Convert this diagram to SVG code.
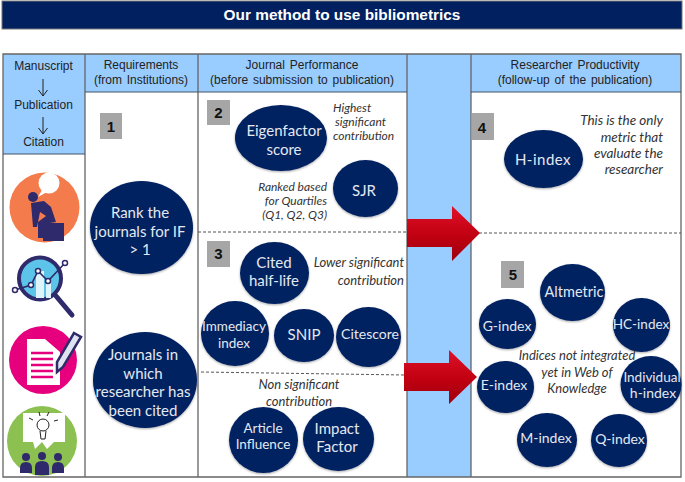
<svg xmlns="http://www.w3.org/2000/svg" width="685" height="482" viewBox="0 0 685 482">
<style>
text{font-family:"Liberation Sans",Arial,sans-serif;text-anchor:middle}
.hd{font-size:12px;fill:#222;word-spacing:1.5px}
.n{fill:#002060;filter:url(#sh)}
.nt{font-family:Lato,"Liberation Sans",sans-serif;font-size:15px;fill:#e4e8f2}
.it{font-family:Lato,"Liberation Sans",sans-serif;font-size:12px;font-style:italic;fill:#333}
.it4{font-size:13.5px}
.end{text-anchor:end}
.st{text-anchor:start}
.num{font-size:15px;font-weight:bold;fill:#111}
.b{fill:#a6a6a6}
.c{fill:#99ccff}
.l{fill:none;stroke:#666;stroke-width:1.3}
.d{stroke:#555;stroke-width:1;stroke-dasharray:3 2;fill:none}
.ink{fill:#2e2a6b}
</style>
<defs>
<filter id="sh" x="-10%" y="-10%" width="120%" height="125%"><feDropShadow dx="0" dy="1" stdDeviation="0.8" flood-color="#000" flood-opacity=".35"/></filter>
<linearGradient id="red" x1="0" y1="0" x2="0" y2="1"><stop offset="0" stop-color="#e0102a"/><stop offset=".55" stop-color="#c00010"/><stop offset="1" stop-color="#9c0010"/></linearGradient>
<marker id="ah" markerWidth="10" markerHeight="10" refX="9" refY="5" orient="auto" markerUnits="userSpaceOnUse" viewBox="0 0 10 10"><path d="M3 0.500L9 5L3 9.500" fill="none" stroke="#222" stroke-width="1"/></marker>
</defs>
<g id="title"><rect x="2" y="1" width="680" height="28" fill="#002060" stroke="#777"/><text x="342" y="20" font-size="15.4" font-weight="bold" fill="#fff">Our method to use bibliometrics</text></g>
<g id="panels">
<rect x="3" y="54" width="82" height="100" class="c"/>
<rect x="85" y="54" width="113" height="38" class="c"/>
<rect x="198" y="54" width="209" height="38" class="c"/>
<rect x="407" y="54" width="64" height="423" class="c"/>
<rect x="471" y="54" width="210" height="38" class="c"/>
<path class="l" d="M3 54H681V477H3ZM85 54V477M198 54V477M407 54V477M471 54V477"/>
<path d="M3 154H85M85 92H198M198 92H407M471 92H681" stroke="#456" stroke-width="1" fill="none"/>
<path class="d" d="M198 232H407M479 233H681M201 372L405 375"/>
</g>
<g id="headers">
<text class="hd" x="43.500" y="70">Manuscript</text>
<text class="hd" x="43.500" y="109">Publication</text>
<text class="hd" x="43.500" y="146">Citation</text>
<text class="hd" x="141" y="69">Requirements</text><text class="hd" x="141" y="84">(from Institutions)</text>
<text class="hd" x="302" y="69">Journal Performance</text><text class="hd" x="302" y="84">(before submission to publication)</text>
<text class="hd" x="575" y="69">Researcher Productivity</text><text class="hd" x="575" y="84">(follow-up of the publication)</text>
<path d="M43 79V96" stroke="#222" marker-end="url(#ah)"/><path d="M43 117V134" stroke="#222" marker-end="url(#ah)"/>
</g>
<g id="icon-thinker"><circle cx="44.500" cy="207.500" r="35" fill="#f47c4c"/><circle cx="49" cy="183" r="10.500" fill="#fff"/><path d="M42 190L38 197L47 192Z" fill="#fff"/><circle cx="33" cy="197" r="5" class="ink"/><path class="ink" d="M31 203L44 201L51 207L56 222L44 224L44 238L38 238L38 222L46 216L40 212L37 227L33 227Z"/><rect x="43" y="223" width="21" height="18" class="ink"/></g>
<g id="icon-search"><circle cx="40" cy="278.500" r="21" fill="#5cc4e8" stroke="#2e2a6b" stroke-width="4"/><rect x="36" y="271" width="8" height="27" fill="#dff3fb"/><rect x="46" y="282" width="5" height="16" fill="#dff3fb"/><path d="M56 296L72 315" stroke="#2e2a6b" stroke-width="5" stroke-linecap="round"/><path d="M15 290L31 285L38 271L48 281L65 263" fill="none" stroke="#2e2a6b" stroke-width="1.6"/><g fill="#fff" stroke="#2e2a6b" stroke-width="1.500"><circle cx="15" cy="290" r="2.500"/><circle cx="31" cy="285" r="2.500"/><circle cx="38" cy="271" r="2.500"/><circle cx="48" cy="281" r="2.500"/><circle cx="65" cy="263" r="2.500"/></g></g>
<g id="icon-document"><circle cx="43" cy="360" r="34" fill="#e6007e"/><path d="M27 339H45L60 352V385H27Z" fill="#fff"/><path d="M31 353H53M31 359H53M31 365H53M31 371H53M31 377H53" stroke="#e6007e" stroke-width="2.400"/><path d="M74 333L81 337L63 367L57 372L57 362Z" fill="#dfe3f0" stroke="#2e2a6b" stroke-width="2.500"/></g>
<g id="icon-idea"><circle cx="42" cy="441" r="35" fill="#8cc152"/><path d="M23 413H65V442H54L47 449L42 442L35 449L33 442H23Z" fill="#fff"/><circle cx="43" cy="425" r="6" fill="none" stroke="#222"/><path d="M40 431L41 439H45L46 431" fill="none" stroke="#222"/><path d="M29 418L33 420M39 412L40 416M49 412L47 416M58 420L54 421" stroke="#222"/><g class="ink"><circle cx="26" cy="457" r="4"/><circle cx="42" cy="456" r="4"/><circle cx="58" cy="457" r="4"/><path d="M20 473V468Q20 462 26 462Q32 462 32 468V473ZM35 475V467Q35 461 42 461Q49 461 49 467V475ZM52 473V468Q52 462 58 462Q64 462 64 468V473Z"/></g></g>
<g id="badge-1"><rect class="b" x="100" y="113" width="22" height="26"/><text class="num" x="111" y="132">1</text></g>
<g id="badge-2"><rect class="b" x="207" y="100" width="23" height="25"/><text class="num" x="218.500" y="118">2</text></g>
<g id="badge-3"><rect class="b" x="207" y="241" width="23" height="26"/><text class="num" x="218.500" y="259">3</text></g>
<g id="badge-4"><rect class="b" x="472" y="113" width="22" height="27"/><text class="num" x="482" y="133">4</text></g>
<g id="badge-5"><rect class="b" x="501" y="261" width="23" height="27"/><text class="num" x="513" y="280">5</text></g>
<g id="node-rank"><ellipse class="n" cx="141.500" cy="227.500" rx="51.500" ry="46.500"/><text class="nt" x="140" y="218">Rank the</text><text class="nt" x="140" y="237">journals for IF</text><text class="nt" x="140" y="255">&gt; 1</text></g>
<g id="node-cited"><ellipse class="n" cx="145" cy="380" rx="52" ry="48"/><text class="nt" x="143" y="360">Journals in</text><text class="nt" x="143" y="379">which</text><text class="nt" x="143" y="397">researcher has</text><text class="nt" x="143" y="416">been cited</text></g>
<g id="node-eigenfactor"><ellipse class="n" cx="281" cy="138" rx="46" ry="33"/><text class="nt" x="284" y="136">Eigenfactor</text><text class="nt" x="284" y="155">score</text></g>
<g id="node-sjr"><ellipse class="n" cx="365.500" cy="188.500" rx="32.500" ry="28.500"/><text class="nt" x="364" y="196">SJR</text></g>
<g id="node-halflife"><ellipse class="n" cx="274.500" cy="273" rx="34.500" ry="31"/><text class="nt" x="274" y="268">Cited</text><text class="nt" x="274" y="286">half-life</text></g>
<g id="node-immediacy"><ellipse class="n" cx="235" cy="333.500" rx="34" ry="32.500"/><text class="nt" x="234" y="331" style="font-size:13.5px">Immediacy</text><text class="nt" x="234" y="348" style="font-size:13.5px">index</text></g>
<g id="node-snip"><ellipse class="n" cx="304" cy="335.500" rx="30" ry="26.500"/><text class="nt" x="304" y="340">SNIP</text></g>
<g id="node-citescore"><ellipse class="n" cx="368.500" cy="337" rx="32.500" ry="30"/><text class="nt" x="370" y="339" style="font-size:14px">Citescore</text></g>
<g id="node-influence"><ellipse class="n" cx="263.500" cy="440" rx="34.500" ry="33"/><text class="nt" x="263" y="433" style="font-size:13.5px">Article</text><text class="nt" x="263" y="449" style="font-size:13.5px">Influence</text></g>
<g id="node-impact"><ellipse class="n" cx="338.500" cy="439" rx="35.500" ry="32"/><text class="nt" x="337" y="434">Impact</text><text class="nt" x="337" y="452">Factor</text></g>
<g id="node-hindex"><ellipse class="n" cx="543.500" cy="159" rx="39.500" ry="29"/><text class="nt" x="543" y="165" letter-spacing=".5">H-index</text></g>
<g id="node-altmetric"><ellipse class="n" cx="572.500" cy="292.500" rx="32.500" ry="28.500"/><text class="nt" x="574" y="297" style="font-size:14.5px">Altmetric</text></g>
<g id="node-gindex"><ellipse class="n" cx="507.500" cy="324" rx="28.500" ry="25"/><text class="nt" x="507" y="331" style="font-size:14px">G-index</text></g>
<g id="node-hcindex"><ellipse class="n" cx="641.500" cy="325" rx="28.500" ry="27"/><text class="nt" x="641" y="329" style="font-size:13.5px">HC-index</text></g>
<g id="node-eindex"><ellipse class="n" cx="505.500" cy="387" rx="28.500" ry="26"/><text class="nt" x="504" y="390" style="font-size:14px">E-index</text></g>
<g id="node-individual"><ellipse class="n" cx="651" cy="384.500" rx="30.500" ry="28.500"/><text class="nt" x="652" y="382" style="font-size:13.5px">Individual</text><text class="nt" x="653" y="398" style="font-size:14px">h-index</text></g>
<g id="node-mindex"><ellipse class="n" cx="547" cy="440" rx="30" ry="27"/><text class="nt" x="546" y="443" style="font-size:14px">M-index</text></g>
<g id="node-qindex"><ellipse class="n" cx="619" cy="440.500" rx="28" ry="26.500"/><text class="nt" x="620" y="444" style="font-size:14px">Q-index</text></g>
<g id="notes">
<text class="it st" x="333" y="112">Highest</text><text class="it st" x="335" y="126">significant</text><text class="it st" x="333" y="140">contribution</text>
<text class="it end" x="327" y="191">Ranked based</text><text class="it end" x="327" y="205">for Quartiles</text><text class="it end" x="327" y="219">(Q1, Q2, Q3)</text>
<text class="it end" x="404" y="267" style="font-size:13px">Lower significant</text><text class="it end" x="404" y="285" style="font-size:13px">contribution</text>
<text class="it" x="299" y="389" style="font-size:13px">Non significant</text><text class="it" x="299" y="406" style="font-size:13px">contribution</text>
<text class="it it4 end" x="663" y="125">This is the only</text><text class="it it4 end" x="663" y="142">metric that</text><text class="it it4 end" x="663" y="158">evaluate the</text><text class="it it4 end" x="663" y="174">researcher</text>
<text class="it" x="577" y="360" style="font-size:13px">Indices not integrated</text><text class="it" x="577" y="377" style="font-size:13px">yet in Web of</text><text class="it" x="577" y="393" style="font-size:13px">Knowledge</text>
</g>
<g id="connectors">
<path d="M407 219H452V206L480 233L452 261V247H407Z" fill="url(#red)"/>
<path d="M404 363H449V350L477 377L449 404V391H404Z" fill="url(#red)"/>
</g>
</svg>
